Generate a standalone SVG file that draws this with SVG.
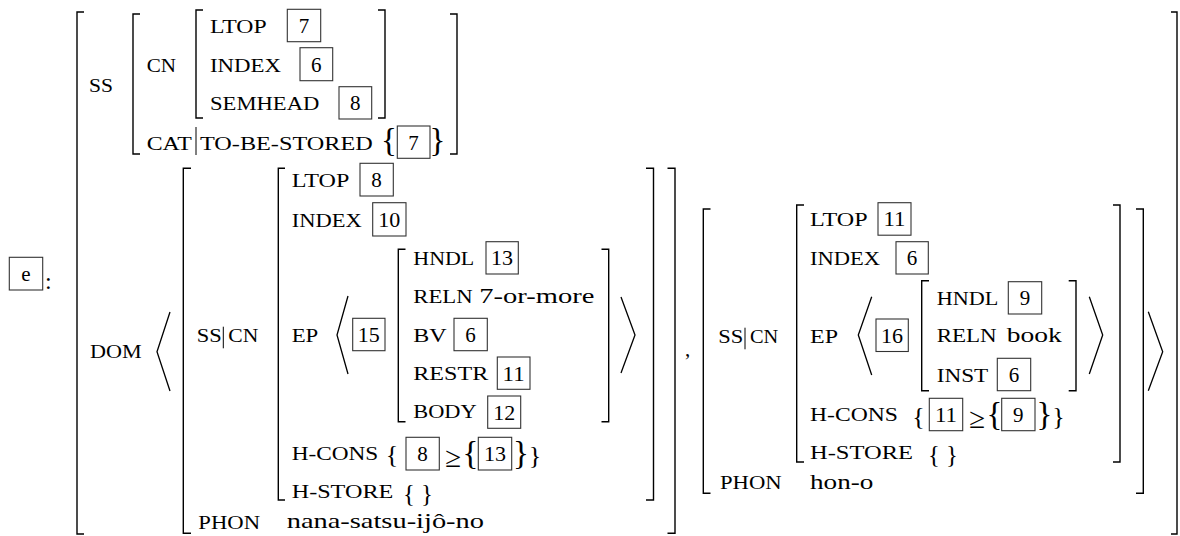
<svg xmlns="http://www.w3.org/2000/svg" width="1180" height="536" viewBox="0 0 1180 536">
<style>
text{font-family:"Liberation Serif","DejaVu Serif",serif;fill:#000}
.sc{font-size:19.5px}
.rm{font-size:21px}
.d{font-size:21px;text-anchor:middle}
.br{text-anchor:middle}
.ge{font-size:29px;text-anchor:middle}
.bk{fill:none;stroke:#000;stroke-width:1.4}
.ang{fill:none;stroke:#000;stroke-width:1.3;stroke-linejoin:miter}
.bx{fill:none;stroke:#333;stroke-width:1.1}
</style>
<rect width="1180" height="536" fill="#fff"/>

<g id="connectors">
<path class="bk" d="M84,12H77V534H84"/>
<path class="bk" d="M1171,12H1177V534H1171"/>
<path class="bk" d="M140,14H133V154H140"/>
<path class="bk" d="M450,14H457V154H450"/>
<path class="bk" d="M203,10H196V118H203"/>
<path class="bk" d="M378,10H385V118H378"/>
<line x1="196" y1="127" x2="196" y2="155" stroke="#000" stroke-width="1"/>
<polyline class="ang" points="170,312 157,351.7 170,391"/>
<polyline class="ang" points="1148.3,311.7 1162.7,351.7 1148.3,390.7"/>
<path class="bk" d="M191,168.3H183.3V533.3H191"/>
<path class="bk" d="M667.5,168.3H675V533.3H667.5"/>
<path class="bk" d="M285,168.3H278.3V500H285"/>
<path class="bk" d="M646,168.3H653.5V500H646"/>
<line x1="223.3" y1="326.7" x2="223.3" y2="348.3" stroke="#000" stroke-width="1"/>
<polyline class="ang" points="348,296 337,335 348,374"/>
<polyline class="ang" points="621,297 635,335 621,373"/>
<path class="bk" d="M405.5,249.3H398.3V421.7H405.5"/>
<path class="bk" d="M601.5,249.3H608.7V421.7H601.5"/>
<path class="bk" d="M710.5,209H703.3V493.3H710.5"/>
<path class="bk" d="M1136,209H1143.3V493.3H1136"/>
<path class="bk" d="M804,205H796.7V462H804"/>
<path class="bk" d="M1113,205H1120V462H1113"/>
<line x1="745" y1="327.7" x2="745" y2="349.3" stroke="#000" stroke-width="1"/>
<polyline class="ang" points="871.7,296.7 858.3,335 871.7,375"/>
<polyline class="ang" points="1089.3,296.7 1102.7,335 1089.3,374"/>
<path class="bk" d="M929,280.7H921.7V390.7H929"/>
<path class="bk" d="M1068.7,280.7H1076V390.7H1068.7"/>
</g>

<g id="tag-e">
<rect class="bx" x="9.3" y="257.3" width="33.4" height="32.7"/>
<text class="d" x="26" y="280.8">e</text>
<text class="rm" x="45" y="289" style="font-size:24px">:</text>
</g>

<g id="ss">
<text class="sc" x="89" y="92" textLength="24" lengthAdjust="spacingAndGlyphs">SS</text>
<text class="sc" x="146.7" y="71.7" textLength="29.3" lengthAdjust="spacingAndGlyphs">CN</text>
<text class="sc" x="210" y="32.7" textLength="56.7" lengthAdjust="spacingAndGlyphs">LTOP</text>
<rect class="bx" x="287.3" y="9.3" width="33.4" height="32.4"/>
<text class="d" x="304" y="32.8">7</text>
<text class="sc" x="210" y="71.7" textLength="71" lengthAdjust="spacingAndGlyphs">INDEX</text>
<rect class="bx" x="300" y="47.7" width="32.7" height="33"/>
<text class="d" x="316.3" y="71.5">6</text>
<text class="sc" x="210" y="110" textLength="109.3" lengthAdjust="spacingAndGlyphs">SEMHEAD</text>
<rect class="bx" x="339" y="86.7" width="32.7" height="32.3"/>
<text class="d" x="355.3" y="110.2">8</text>
<text class="sc" x="146.7" y="150" textLength="45" lengthAdjust="spacingAndGlyphs">CAT</text>
<text class="sc" x="200" y="150" textLength="172.7" lengthAdjust="spacingAndGlyphs">TO-BE-STORED</text>
<text class="br" x="389" y="151" style="font-size:33px">{</text>
<rect class="bx" x="397.3" y="126" width="32.7" height="32.3"/>
<text class="d" x="413.6" y="149.5">7</text>
<text class="br" x="437.3" y="151" style="font-size:33px">}</text>
</g>

<g id="dom">
<text class="sc" x="90" y="358.3" textLength="51.7" lengthAdjust="spacingAndGlyphs">DOM</text>
</g>

<g id="element-1">
<text class="sc" x="196.7" y="341.7" textLength="25" lengthAdjust="spacingAndGlyphs">SS</text>
<text class="sc" x="228.3" y="341.7" textLength="30" lengthAdjust="spacingAndGlyphs">CN</text>
<text class="sc" x="291.7" y="186.7" textLength="57.6" lengthAdjust="spacingAndGlyphs">LTOP</text>
<rect class="bx" x="360" y="163.3" width="33.3" height="32.7"/>
<text class="d" x="376.6" y="187">8</text>
<text class="sc" x="291.7" y="226.5" textLength="70" lengthAdjust="spacingAndGlyphs">INDEX</text>
<rect class="bx" x="372.7" y="202.7" width="33.3" height="33.3"/>
<text class="d" x="389.3" y="226.6" textLength="22" lengthAdjust="spacingAndGlyphs">10</text>
<text class="sc" x="291.7" y="341.7" textLength="26.6" lengthAdjust="spacingAndGlyphs">EP</text>
<rect class="bx" x="352.7" y="318.3" width="32.3" height="32.4"/>
<text class="d" x="368.8" y="341.8" textLength="22" lengthAdjust="spacingAndGlyphs">15</text>
<text class="sc" x="413.3" y="265" textLength="61" lengthAdjust="spacingAndGlyphs">HNDL</text>
<rect class="bx" x="486" y="241.7" width="32.3" height="32.3"/>
<text class="d" x="502.1" y="265.1" textLength="22" lengthAdjust="spacingAndGlyphs">13</text>
<text class="sc" x="413.3" y="302.7" textLength="59.4" lengthAdjust="spacingAndGlyphs">RELN</text>
<text class="rm" x="479.3" y="302.7" textLength="115" lengthAdjust="spacingAndGlyphs">7-or-more</text>
<text class="sc" x="413.3" y="341.7" textLength="33.4" lengthAdjust="spacingAndGlyphs">BV</text>
<rect class="bx" x="454" y="318.3" width="33.3" height="32.4"/>
<text class="d" x="470.6" y="341.8">6</text>
<text class="sc" x="413.3" y="380" textLength="75" lengthAdjust="spacingAndGlyphs">RESTR</text>
<rect class="bx" x="497.3" y="357" width="32.7" height="32.3"/>
<text class="d" x="513.6" y="380.5" textLength="22" lengthAdjust="spacingAndGlyphs">11</text>
<text class="sc" x="413.3" y="418.3" textLength="63.4" lengthAdjust="spacingAndGlyphs">BODY</text>
<rect class="bx" x="487.7" y="396" width="33" height="32.3"/>
<text class="d" x="504.2" y="419.5" textLength="22" lengthAdjust="spacingAndGlyphs">12</text>
<text class="sc" x="291.7" y="460" textLength="86.6" lengthAdjust="spacingAndGlyphs">H-CONS</text>
<text class="br" x="392" y="463.3" style="font-size:26px">{</text>
<rect class="bx" x="406" y="437.3" width="33.3" height="32.7"/>
<text class="d" x="422.6" y="461">8</text>
<text class="ge" x="453.3" y="467">≥</text>
<text class="br" x="470.5" y="463.5" style="font-size:33px">{</text>
<rect class="bx" x="478.3" y="437.3" width="33.4" height="32.7"/>
<text class="d" x="495" y="461" textLength="22" lengthAdjust="spacingAndGlyphs">13</text>
<text x="513" y="463.5" style="font-size:33px">}<tspan style="font-size:26px">}</tspan></text>
<text class="sc" x="291.7" y="498.3" textLength="101.6" lengthAdjust="spacingAndGlyphs">H-STORE</text>
<text x="403" y="502.2" style="font-size:24.8px">{ }</text>
<text class="sc" x="198.3" y="529" textLength="61.7" lengthAdjust="spacingAndGlyphs">PHON</text>
<text class="rm" x="286.7" y="528" textLength="197.3" lengthAdjust="spacingAndGlyphs">nana-satsu-ijô-no</text>
</g>

<text class="rm" x="685" y="356">,</text>

<g id="element-2">
<text class="sc" x="718.3" y="342.7" textLength="25" lengthAdjust="spacingAndGlyphs">SS</text>
<text class="sc" x="750" y="342.7" textLength="28.3" lengthAdjust="spacingAndGlyphs">CN</text>
<text class="sc" x="810" y="225.5" textLength="57.6" lengthAdjust="spacingAndGlyphs">LTOP</text>
<rect class="bx" x="878" y="202.7" width="33" height="32.5"/>
<text class="d" x="894.5" y="226.3" textLength="22" lengthAdjust="spacingAndGlyphs">11</text>
<text class="sc" x="810" y="264.8" textLength="70" lengthAdjust="spacingAndGlyphs">INDEX</text>
<rect class="bx" x="896" y="241.7" width="32.3" height="32.3"/>
<text class="d" x="912.1" y="265.1">6</text>
<text class="sc" x="810" y="342.7" textLength="28" lengthAdjust="spacingAndGlyphs">EP</text>
<rect class="bx" x="876" y="319" width="32.3" height="32.5"/>
<text class="d" x="892.1" y="342.6" textLength="22" lengthAdjust="spacingAndGlyphs">16</text>
<text class="sc" x="936.7" y="305" textLength="61.6" lengthAdjust="spacingAndGlyphs">HNDL</text>
<rect class="bx" x="1008.3" y="281.7" width="33.4" height="32.3"/>
<text class="d" x="1025" y="305.1">9</text>
<text class="sc" x="936.7" y="341.7" textLength="60" lengthAdjust="spacingAndGlyphs">RELN</text>
<text class="rm" x="1006.7" y="341.7" textLength="55" lengthAdjust="spacingAndGlyphs">book</text>
<text class="sc" x="936.7" y="381.5" textLength="51.6" lengthAdjust="spacingAndGlyphs">INST</text>
<rect class="bx" x="997.3" y="358.3" width="33.4" height="32.4"/>
<text class="d" x="1014" y="381.8">6</text>
<text class="sc" x="810" y="421" textLength="88" lengthAdjust="spacingAndGlyphs">H-CONS</text>
<text class="br" x="918.5" y="424.5" style="font-size:26px">{</text>
<rect class="bx" x="929.3" y="398.3" width="33.4" height="32.4"/>
<text class="d" x="946" y="421.8" textLength="22" lengthAdjust="spacingAndGlyphs">11</text>
<text class="ge" x="977.2" y="428">≥</text>
<text class="br" x="994.5" y="424.5" style="font-size:33px">{</text>
<rect class="bx" x="1001.7" y="398.3" width="33.3" height="32.4"/>
<text class="d" x="1018.3" y="421.8">9</text>
<text x="1036.5" y="424.5" style="font-size:33px">}<tspan style="font-size:26px">}</tspan></text>
<text class="sc" x="810" y="459" textLength="103" lengthAdjust="spacingAndGlyphs">H-STORE</text>
<text x="928" y="462.9" style="font-size:24.8px">{ }</text>
<text class="sc" x="720" y="489" textLength="61.7" lengthAdjust="spacingAndGlyphs">PHON</text>
<text class="rm" x="810" y="489" textLength="63.3" lengthAdjust="spacingAndGlyphs">hon-o</text>
</g>
</svg>
